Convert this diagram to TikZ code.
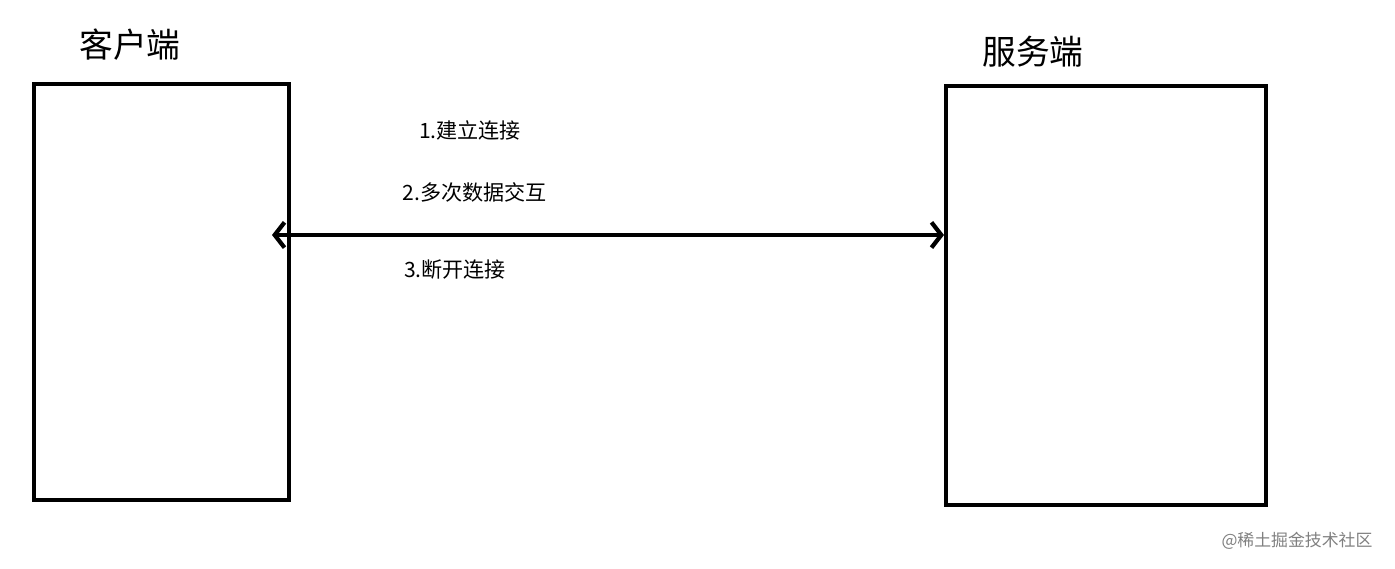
\documentclass[tikz,border=0pt]{standalone}
\usepackage{fontspec}
\usepackage{tikz}
\usetikzlibrary{arrows.meta, positioning}
\newfontfamily\cjk{Noto Sans CJK SC}

\begin{document}
\begin{tikzpicture}[
    x=0.025cm, y=-0.025cm,
    box/.style={draw, line width=3pt, inner sep=0pt},
    title/.style={font=\cjk\fontsize{24}{28}\selectfont},
    step label/.style={font=\cjk\fontsize{15}{18}\selectfont},
    arrow/.style={{Straight Barb[length=7pt,width=18pt]}-{Straight Barb[length=7pt,width=18pt]}, line width=3pt}
]
    \useasboundingbox (0,0) rectangle (1395,569);

    % Client and server
    \node[box, minimum width=6.375cm, minimum height=10.4cm] (client) at (161.5,292) {};
    \node[box, minimum width=8cm, minimum height=10.475cm] (server) at (1106,295.5) {};
    \node[title] (clientlabel) at (130,45) {客户端};
    \node[title] (serverlabel) at (1033,52) {服务端};

    % Connection
    \coordinate (cl) at (272,235);
    \coordinate (sr) at (944,235);
    \draw[arrow] (cl) -- (sr);

    \node[step label] (s1) at (470,130) {1.建立连接};
    \node[step label] (s2) at (475,192) {2.多次数据交互};
    \node[step label] (s3) at (455,270) {3.断开连接};

    \node[font=\cjk\fontsize{12}{14}\selectfont, text=gray] (mark) at (1297,541) {@稀土掘金技术社区};
\end{tikzpicture}
\end{document}
